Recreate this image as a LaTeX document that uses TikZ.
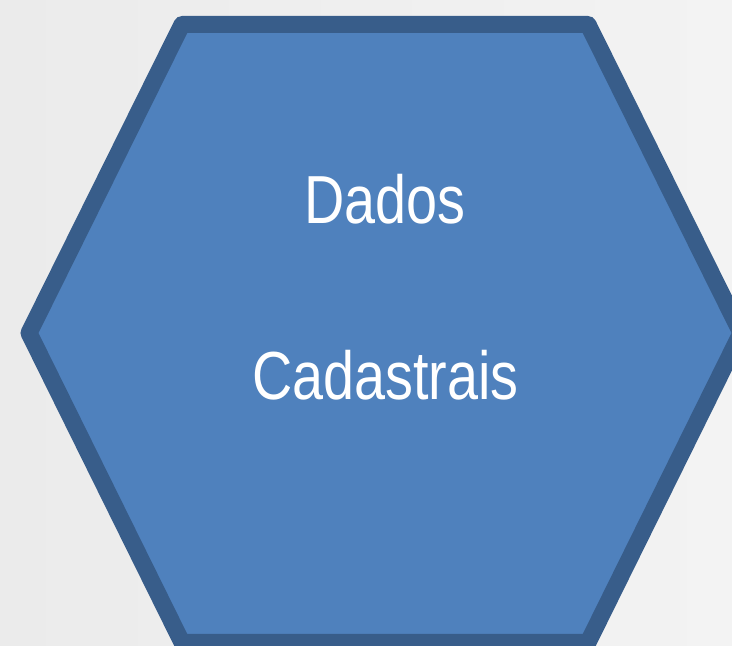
\documentclass[tikz,border=0pt]{standalone}
\usepackage{fontspec}
\newfontfamily\labelfont[FakeStretch=0.82]{Liberation Sans}
\definecolor{hexfill}{HTML}{4F81BD}
\definecolor{hexline}{HTML}{385D8A}
\definecolor{bgleft}{HTML}{EBEBEB}
\definecolor{bgright}{HTML}{F3F3F3}
\tikzset{
  hexbox/.style={fill=hexfill, draw=hexline, line width=17pt, line join=round},
  hexlabel/.style={text=white, font=\labelfont\fontsize{68}{70}\selectfont, anchor=base, inner sep=0pt}
}
\begin{document}
\begin{tikzpicture}[x=1pt,y=1pt]
  \useasboundingbox (0,0) rectangle (732,646);
  \shade[left color=bgleft, right color=bgright] (0,0) rectangle (732,646);
  \clip (0,0) rectangle (732,646);
  \draw[hexbox] (182,621.5) -- (588,621.5) -- (741,313) -- (588,3.5) -- (182,3.5) -- (29,313) -- cycle;
  \node[hexlabel] (dados) at (385,422) {Dados};
  \node[hexlabel] (cadastrais) at (385.5,246) {Cadastrais};
\end{tikzpicture}
\end{document}
